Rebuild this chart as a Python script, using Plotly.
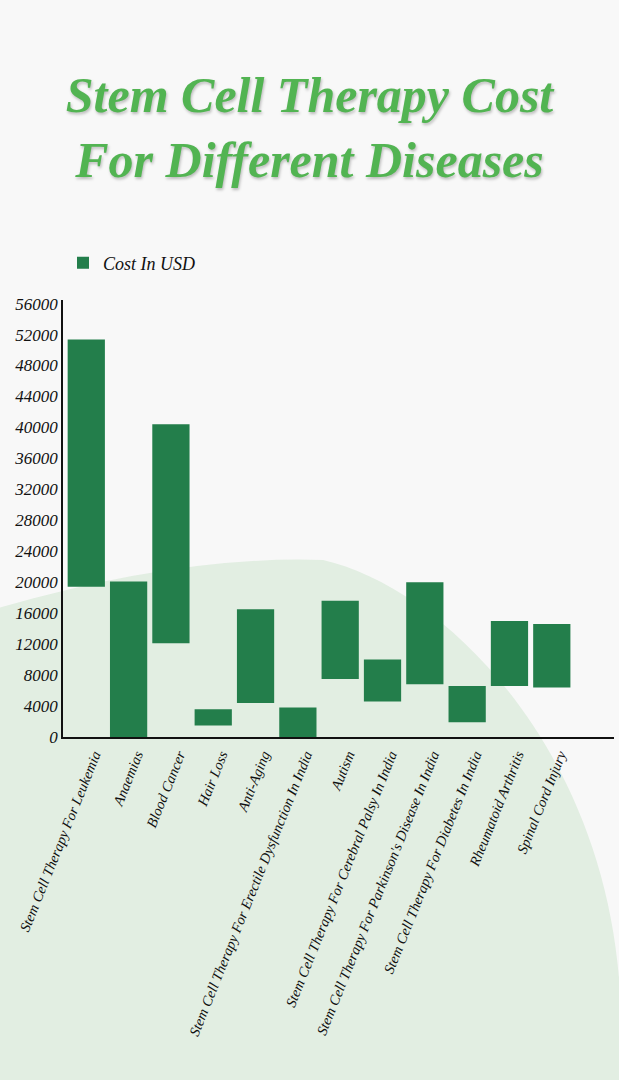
import plotly.graph_objects as go

categories = [
    "Stem Cell Therapy For Leukemia",
    "Anaemias",
    "Blood Cancer",
    "Hair Loss",
    "Anti-Aging",
    "Stem Cell Therapy For Erectile Dysfunction In India",
    "Autism",
    "Stem Cell Therapy For Cerebral Palsy In India",
    "Stem Cell Therapy For Parkinson's Disease In India",
    "Stem Cell Therapy For Diabetes In India",
    "Rheumatoid Arthritis",
    "Spinal Cord Injury",
]
cost_low = [19400, 0, 12100, 1500, 4400, 0, 7500, 4600, 6800, 1900, 6600, 6400]
cost_high = [51350, 20100, 40400, 3600, 16500, 3800, 17600, 10000, 20000, 6600, 15000, 14600]
y_ticks = list(range(0, 56001, 4000))
y_tick_labels = [str(v) for v in y_ticks]

W, H = 619, 1080
ML, MR, MT, MB = 63, 5, 300, 343
PW, PH = W - ML - MR, H - MT - MB


def px(x, y):
    return (x - ML) / PW, (H - MB - y) / PH


def pt(x, y):
    a, b = px(x, y)
    return f"{a:.4f},{b:.4f}"


blob = (
    f"M {pt(-5, 609)} Q {pt(180, 555)} {pt(323, 560)} "
    f"C {pt(447, 588)} {pt(618, 760)} {pt(621, 1020)} "
    f"L {pt(625, 1090)} L {pt(-5, 1090)} Z"
)

fig = go.Figure()
fig.add_trace(go.Bar(
    x=categories,
    y=[h - l for h, l in zip(cost_high, cost_low)],
    base=cost_low,
    name="Cost In USD",
    marker=dict(color="#237e4b", line=dict(width=0)),
    showlegend=True,
))

fig.add_shape(type="path", path=blob, xref="paper", yref="paper",
              fillcolor="#e2eee2", line=dict(width=0), layer="below")

fig.update_layout(
    width=W, height=H,
    margin=dict(l=ML, r=MR, t=MT, b=MB),
    paper_bgcolor="#f8f8f8",
    plot_bgcolor="rgba(0,0,0,0)",
    bargap=0.12,
    title=dict(
        text="Stem Cell Therapy Cost<br>For Different Diseases",
        x=0.5, xanchor="center", xref="container",
        y=1 - 112 / H, yanchor="top", yref="container",
        font=dict(family="Liberation Serif", size=50, color="#52b452",
                  style="italic", weight="bold",
                  shadow="1px 2px 3px rgba(0,0,0,0.25)"),
    ),
    legend=dict(
        x=0.0, y=px(0, 263)[1], xanchor="left", yanchor="middle",
        orientation="h", bgcolor="rgba(0,0,0,0)",
        font=dict(family="Liberation Serif", size=18, color="#111111", style="italic"),
    ),
    xaxis=dict(
        range=[-0.55, 12.47],
        showline=True, linecolor="#111111", linewidth=1.5,
        showgrid=False, ticks="", tickangle=-68,
        ticklabelshift=8, ticklabelstandoff=2,
        tickfont=dict(family="Liberation Serif", size=14.5, color="#111111", style="italic"),
    ),
    yaxis=dict(
        range=[0, 56000 * PH / 433.4],
        tickvals=y_ticks, ticktext=y_tick_labels,
        showline=True, linecolor="#111111", linewidth=1.5,
        showgrid=False, zeroline=False, ticks="",
        tickfont=dict(family="Liberation Serif", size=17, color="#111111", style="italic"),
    ),
)

fig.write_html(
    "out.html",
    config={"displayModeBar": False},
    post_script="document.body.style.margin='0px';document.body.style.overflow='hidden';",
)
